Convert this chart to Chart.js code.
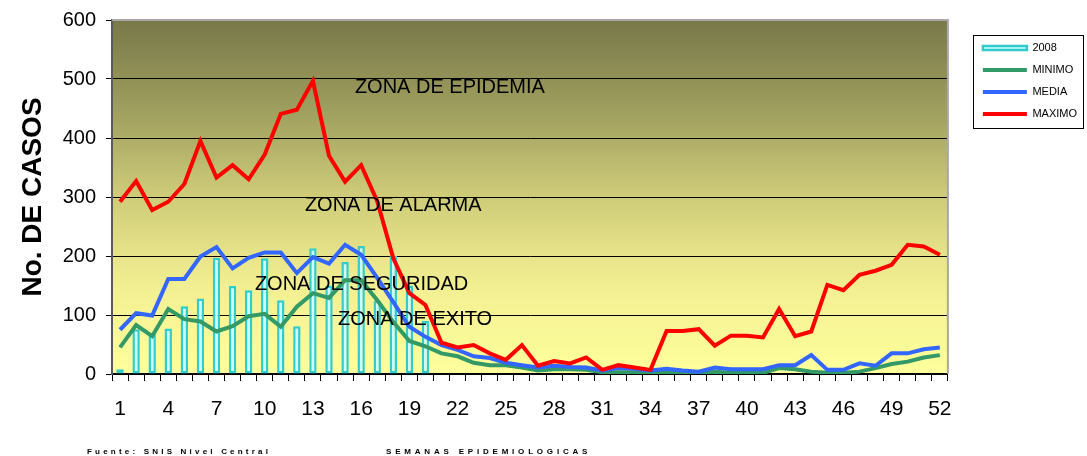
<!DOCTYPE html>
<html>
<head>
<meta charset="utf-8">
<script src="https://cdn.jsdelivr.net/npm/chart.js@4.4.1/dist/chart.umd.min.js"></script>
<style>
  body { margin: 0; background: #fff; }
</style>
</head>
<body>
<canvas id="grafico" width="1087" height="456"></canvas>
<script>
// semanas epidemiologicas (eje x)
const semanas = [1, 2, 3, 4, 5, 6, 7, 8, 9, 10, 11, 12, 13, 14, 15, 16, 17, 18, 19, 20,
  21, 22, 23, 24, 25, 26, 27, 28, 29, 30, 31, 32, 33, 34, 35, 36, 37, 38, 39, 40,
  41, 42, 43, 44, 45, 46, 47, 48, 49, 50, 51, 52];
// semanas que llevan etiqueta
const semanasVisibles = [1, 4, 7, 10, 13, 16, 19, 22, 25, 28, 31, 34, 37, 40, 43, 46, 49, 52];
const marcasY = [0, 100, 200, 300, 400, 500, 600];

// casos 2008 (solo hasta la semana 20)
const casos2008 = [8, 76, 69, 77, 115, 128, 197, 149, 142, 196, 125, 81, 213, 150, 190, 217, 124, 200, 150, 90];
const minimo = [45, 83, 64, 110, 93, 89, 72, 81, 98, 102, 80, 114, 137, 129, 159, 159, 125, 88, 56, 47,
  35, 30, 19, 15, 15, 11, 6, 8, 8, 7, 3, 3, 3, 3, 3, 2, 2, 4, 2, 2,
  2, 10, 8, 4, 2, 2, 4, 10, 17, 21, 28, 32];
const media = [75, 103, 99, 161, 161, 199, 215, 179, 197, 206, 206, 171, 198, 187, 219, 202, 163, 122, 80, 63,
  49, 41, 30, 27, 19, 15, 11, 14, 12, 11, 6, 10, 9, 6, 9, 6, 4, 11, 8, 8,
  8, 15, 15, 32, 7, 7, 18, 14, 35, 35, 42, 45];
const maximo = [292, 327, 278, 292, 322, 395, 333, 354, 330, 372, 441, 448, 497, 370, 326, 354, 293, 196, 137, 117,
  53, 45, 49, 35, 24, 49, 14, 22, 18, 28, 7, 15, 11, 7, 73, 73, 76, 48, 65, 65,
  62, 110, 64, 72, 151, 142, 168, 175, 185, 219, 216, 202];

const fuente = "'Liberation Sans', Arial, sans-serif";

// textos de zonas (x en indice de semana, y en casos)
const zonas = [
  { texto: 'ZONA DE EPIDEMIA', x: 14.61, y: 486 },
  { texto: 'ZONA DE ALARMA', x: 11.5, y: 285 },
  { texto: 'ZONA DE SEGURIDAD', x: 8.39, y: 152 },
  { texto: 'ZONA DE EXITO', x: 13.56, y: 92 }
];

const extras = {
  id: 'extras',
  beforeDraw(chart) {
    // fondo degradado del area
    const { ctx, chartArea: a } = chart;
    const g = ctx.createLinearGradient(0, a.top, 0, a.bottom);
    g.addColorStop(0, '#78784A');
    g.addColorStop(0.25, '#9E9E5E');
    g.addColorStop(0.5, '#CFCC79');
    g.addColorStop(0.75, '#F2EF92');
    g.addColorStop(1, '#FFFF9C');
    ctx.save();
    ctx.fillStyle = g;
    ctx.fillRect(a.left, a.top, a.width, a.height);
    ctx.restore();
  },
  beforeDatasetsDraw(chart) {
    const { ctx, chartArea: a } = chart;
    ctx.save();
    ctx.strokeStyle = '#A8A8A8';
    ctx.lineWidth = 2;
    ctx.beginPath();
    ctx.moveTo(a.left, a.top);
    ctx.lineTo(a.right, a.top);
    ctx.lineTo(a.right, a.bottom);
    ctx.stroke();
    ctx.restore();
  },
  afterDatasetsDraw(chart) {
    const { ctx, scales } = chart;
    ctx.save();
    ctx.fillStyle = '#000';
    ctx.font = '20px ' + fuente;
    ctx.textAlign = 'left';
    ctx.textBaseline = 'middle';
    zonas.forEach(z => {
      ctx.fillText(z.texto, scales.x.getPixelForValue(z.x), scales.y.getPixelForValue(z.y));
    });
    ctx.restore();
  },
  afterDraw(chart) {
    const { ctx } = chart;
    const cajas = chart.legend.legendHitBoxes;
    ctx.save();
    // marco de la leyenda
    const primero = cajas[0], ultimo = cajas[cajas.length - 1];
    ctx.strokeStyle = '#000';
    ctx.lineWidth = 1;
    ctx.strokeRect(Math.round(primero.left - 10) + 0.5, Math.round(primero.top - 8) + 0.5,
      Math.round(chart.legend.right - 4 - (primero.left - 10)), Math.round(ultimo.top + ultimo.height + 8 - (primero.top - 8)));
    // pie
    ctx.fillStyle = '#000';
    ctx.textBaseline = 'middle';
    ctx.font = 'bold 8px ' + fuente;
    ctx.letterSpacing = '3.2px';
    ctx.fillText('Fuente: SNIS Nivel Central', 87, 452);
    ctx.letterSpacing = '3.8px';
    ctx.fillText('SEMANAS EPIDEMIOLOGICAS', 386, 452);
    ctx.restore();
  }
};

const ctx = document.getElementById('grafico');

new Chart(ctx, {
  data: {
    labels: semanas,
    datasets: [
      {
        type: 'bar',
        label: '2008',
        data: casos2008,
        backgroundColor: '#CCFFFF',
        borderColor: '#33CCCC',
        borderWidth: 2.5,
        borderSkipped: false,
        barPercentage: 0.46,
        categoryPercentage: 1,
        order: 4
      },
      {
        type: 'line',
        label: 'MINIMO',
        data: minimo,
        borderColor: '#339966',
        backgroundColor: '#339966',
        borderWidth: 4,
        pointRadius: 0,
        tension: 0,
        order: 3
      },
      {
        type: 'line',
        label: 'MEDIA',
        data: media,
        borderColor: '#3366FF',
        backgroundColor: '#3366FF',
        borderWidth: 4,
        pointRadius: 0,
        tension: 0,
        order: 2
      },
      {
        type: 'line',
        label: 'MAXIMO',
        data: maximo,
        borderColor: '#FF0000',
        backgroundColor: '#FF0000',
        borderWidth: 4,
        pointRadius: 0,
        tension: 0,
        order: 1
      }
    ]
  },
  options: {
    responsive: false,
    animation: false,
    layout: { padding: { top: 20, right: 0, bottom: 0, left: 0 } },
    scales: {
      x: {
        offset: true,
        grid: { display: true, drawOnChartArea: false, offset: true, tickLength: 7, color: '#000', tickColor: '#000' },
        border: { display: true, color: '#000', width: 1.5 },
        ticks: {
          autoSkip: false,
          maxRotation: 0,
          padding: 16,
          color: '#000',
          font: { size: 21, family: fuente },
          callback: function (value, index) {
            const s = semanas[index];
            return semanasVisibles.includes(s) ? String(s) : '';
          }
        },
        afterFit(scale) { scale.height = 82; }
      },
      y: {
        min: 0,
        max: 600,
        afterBuildTicks(scale) { scale.ticks = marcasY.map(v => ({ value: v })); },
        ticks: { padding: 10, color: '#000', font: { size: 20, family: fuente, lineHeight: 0.8 } },
        grid: { color: '#000', lineWidth: 1, tickLength: 6, tickColor: '#000' },
        border: { color: '#5A5A5A', width: 2 },
        title: {
          display: true,
          text: 'No. DE CASOS',
          color: '#000',
          font: { size: 28, weight: 'bold', family: fuente },
          padding: { top: 16, bottom: 0 }
        },
        afterFit(scale) { scale.width = 112; }
      },
      // espacio entre el grafico y la leyenda
      hueco: {
        type: 'linear',
        position: 'right',
        display: true,
        ticks: { display: false },
        grid: { display: false },
        border: { display: false },
        afterFit(scale) { scale.width = 24; }
      }
    },
    plugins: {
      tooltip: { enabled: false },
      legend: {
        position: 'right',
        align: 'start',
        title: { display: true, text: ' ', font: { size: 1 }, padding: { top: 5, bottom: 5.3 } },
        labels: {
          boxWidth: 44,
          boxHeight: 4,
          padding: 11,
          color: '#000',
          font: { size: 11, family: fuente },
          sort: (a, b) => a.datasetIndex - b.datasetIndex,
          generateLabels(chart) {
            const items = Chart.defaults.plugins.legend.labels.generateLabels(chart);
            items.forEach(it => {
              if (chart.data.datasets[it.datasetIndex].type === 'line') {
                it.fillStyle = it.strokeStyle;
                it.lineWidth = 0;
              }
            });
            return items;
          }
        }
      }
    }
  },
  plugins: [extras]
});
</script>
</body>
</html>
